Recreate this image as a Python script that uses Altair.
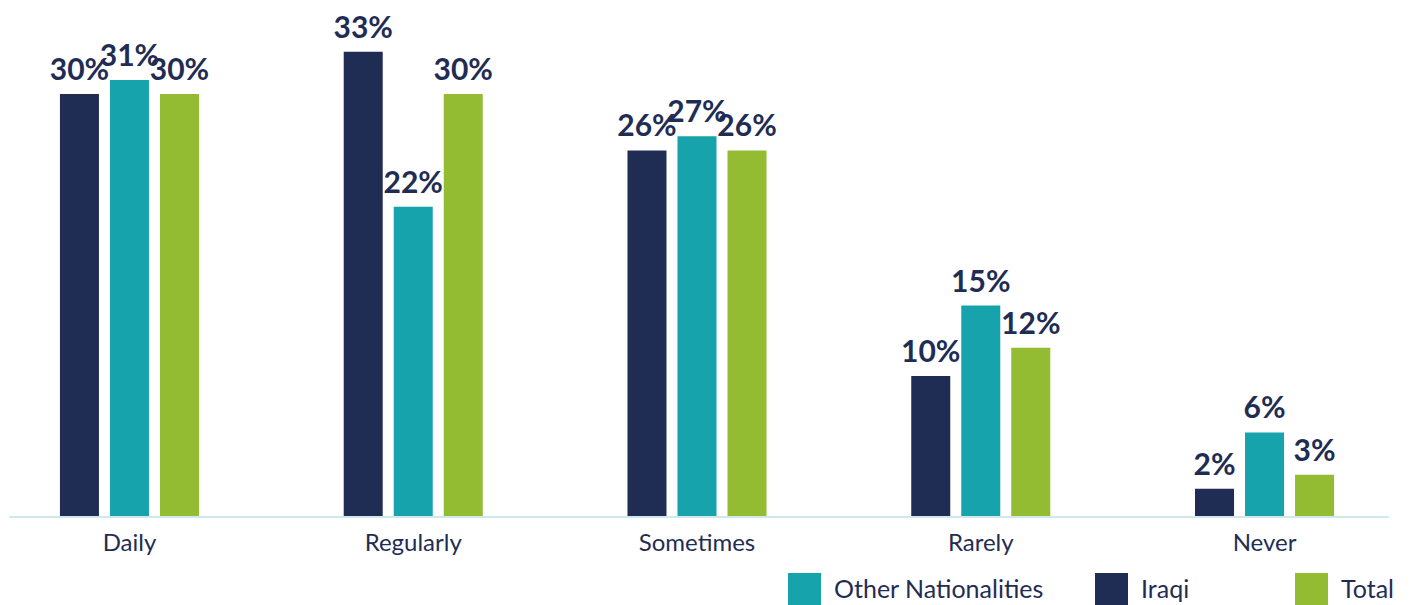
import altair as alt
import pandas as pd

categories = ["Daily", "Regularly", "Sometimes", "Rarely", "Never"]
series = ["Iraqi", "Other Nationalities", "Total"]
iraqi = [30, 33, 26, 10, 2]
other = [31, 22, 27, 15, 6]
total = [30, 30, 26, 12, 3]

rows = []
for i, c in enumerate(categories):
    for s, vals in zip(series, [iraqi, other, total]):
        rows.append({"category": c, "series": s, "value": vals[i], "label": f"{vals[i]}%"})
df = pd.DataFrame(rows)

NAVY = "#1F2D54"
TEAL = "#16A3AC"
GREEN = "#93BC33"
FONT = "Lato"
PAD = "\u2800" * 3

x = alt.X("category:N", sort=categories, title=None,
          scale=alt.Scale(paddingInner=0.51, paddingOuter=0.176),
          axis=alt.Axis(domain=False, ticks=False, labelAngle=0, labelFont=FONT,
                        labelFontSize=24, labelColor=NAVY, labelPadding=14))
xo = alt.XOffset("series:N", sort=series,
                 scale=alt.Scale(domain=series, paddingInner=0.22, paddingOuter=0))
y = alt.Y("value:Q", scale=alt.Scale(domain=[0, 36.1], nice=False, zero=True), axis=None)
color = alt.Color("series:N",
                  scale=alt.Scale(domain=["Other Nationalities", "Iraqi", "Total"],
                                  range=[TEAL, NAVY, GREEN]),
                  legend=alt.Legend(title=None, orient="none", legendX=778, legendY=565,
                                    direction="horizontal", symbolType="square",
                                    symbolSize=1089, symbolStrokeWidth=0, symbolOpacity=1,
                                    labelFont=FONT, labelFontSize=25, labelColor=NAVY,
                                    labelOffset=13, columnPadding=51, padding=0,
                                    labelLimit=400,
                                    labelExpr=f"datum.label == 'Iraqi' ? 'Iraqi{PAD}' : datum.label"))

base = alt.Chart(df)
bars = base.mark_bar().encode(x=x, xOffset=xo, y=y, color=color)
labels = base.mark_text(baseline="alphabetic", dy=-14, font=FONT, fontWeight="bold",
                        fontSize=30, color=NAVY).encode(x=x, xOffset=xo, y=y, text="label:N")
rule = alt.Chart(pd.DataFrame({"v": [0]})).mark_rule(color="#CDE9EB", strokeWidth=2).encode(
    x=alt.value(-1), x2=alt.value(1379),
    y=alt.Y("v:Q", scale=alt.Scale(domain=[0, 36.1], nice=False), axis=None))

chart = alt.layer(bars, labels, rule).properties(
    width=1374, height=509, padding=0).configure_view(strokeWidth=0)

chart.save("out.html", embed_options={"renderer": "svg", "actions": False})
